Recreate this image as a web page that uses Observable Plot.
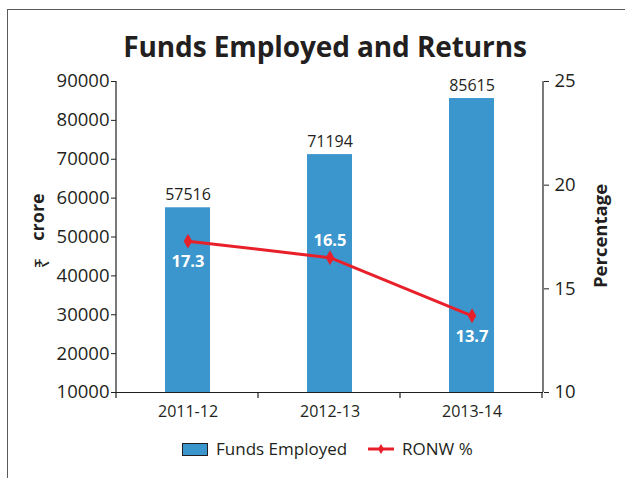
<!DOCTYPE html>
<html>
<head>
<meta charset="utf-8">
<script src="https://cdn.jsdelivr.net/npm/d3@7"></script>
<script src="https://cdn.jsdelivr.net/npm/@observablehq/plot@0.6"></script>
<style>
  html, body { margin: 0; padding: 0; background: #fff; }
  #wrap { position: relative; width: 625px; height: 478px; overflow: hidden; background: #fff; font-family: "Open Sans", sans-serif; color: #231f20; }
  #frameTop { position: absolute; left: 7px; top: 9px; width: 620px; height: 0; border-top: 1.5px solid #5a5a5a; }
  #frameLeft { position: absolute; left: 7px; top: 9px; width: 0; height: 480px; border-left: 1.5px solid #5a5a5a; }
  #title { position: absolute; left: 0; width: 650px; top: 29px; text-align: center; font-weight: 700; font-size: 28px; line-height: 34px; letter-spacing: -0.1px; }
  #chart { position: absolute; left: 0; top: 0; }
  #legend { position: absolute; top: 437px; left: 0; width: 625px; height: 24px; font-size: 17px; line-height: 24px; }
  .sw { position: absolute; }
  .lt { position: absolute; top: 0; white-space: nowrap; }
</style>
</head>
<body>
<div id="wrap">
  <div id="frameTop"></div>
  <div id="frameLeft"></div>
  <div id="chart"></div>
  <div id="title">Funds Employed and Returns</div>
  <div id="legend">
    <div class="sw" style="left:182px; top:6px; width:24px; height:11px; background:#3a96cd; border:1.3px solid #231f20;"></div>
    <div class="lt" style="left:216px;">Funds Employed</div>
    <svg class="sw" style="left:367px; top:4px;" width="28" height="16">
      <line x1="1" y1="8" x2="27" y2="8" stroke="#e8202a" stroke-width="3"></line>
      <path d="M14,3 L17,8 L14,13 L11,8 Z" fill="#e8202a"></path>
    </svg>
    <div class="lt" style="left:402px;">RONW %</div>
  </div>
</div>
<script>
const categories = ["2011-12", "2012-13", "2013-14"];
const fundsEmployed = [57516, 71194, 85615];
const ronw = [17.3, 16.5, 13.7];
const leftTicks = [10000, 20000, 30000, 40000, 50000, 60000, 70000, 80000, 90000];
const rightTicks = [10, 15, 20, 25];

const yMin = 10000, yMax = 90000, pMin = 10, pMax = 25;
const pToY = p => yMin + (p - pMin) * (yMax - yMin) / (pMax - pMin);
const yToP = v => pMin + (v - yMin) * (pMax - pMin) / (yMax - yMin);

const data = categories.map((c, i) => ({cat: c, funds: fundsEmployed[i], ronw: ronw[i], idx: i}));
const labelBelow = [true, false, true];

const red = "#e8202a";
const blue = "#3a96cd";
const ink = "#231f20";

const plot = Plot.plot({
  width: 625,
  height: 478,
  marginTop: 81,
  marginBottom: 86,
  marginLeft: 116,
  marginRight: 82,
  style: {fontFamily: "'Open Sans', sans-serif", color: ink, background: "transparent", overflow: "visible"},
  x: {domain: categories, paddingInner: 0.68, paddingOuter: 0.34, axis: null},
  y: {domain: [yMin, yMax], axis: null},
  marks: [
    Plot.barY(data, {x: "cat", y1: yMin, y2: "funds", fill: blue}),
    Plot.axisY({anchor: "left", ticks: leftTicks, tickFormat: d => String(d), tickSize: 5, tickPadding: 2, fontSize: 18.5, label: null, stroke: ink, fill: ink}),
    Plot.axisY({anchor: "right", ticks: rightTicks.map(pToY), tickFormat: v => String(Math.round(yToP(v))), tickSize: 5, tickPadding: 6, fontSize: 18.5, label: null, stroke: ink, fill: ink}),
    Plot.axisX({anchor: "bottom", tickSize: 0, tickPadding: 13, fontSize: 16, label: null, fill: ink}),
    Plot.ruleY([yMin], {stroke: ink, strokeWidth: 1.2}),
    Plot.line(data, {x: "cat", y: d => pToY(d.ronw), stroke: red, strokeWidth: 3}),
    Plot.dot(data, {x: "cat", y: d => pToY(d.ronw), symbol: "diamond", r: 4.5, fill: red, stroke: null}),
    Plot.text(data, {x: "cat", y: "funds", text: d => String(d.funds), dy: -13, fontSize: 16, fill: ink}),
    Plot.text(data.filter(d => labelBelow[d.idx]), {x: "cat", y: d => pToY(d.ronw), text: d => d.ronw.toFixed(1), dy: 21, fontSize: 16.5, fontWeight: "bold", fill: "white"}),
    Plot.text(data.filter(d => !labelBelow[d.idx]), {x: "cat", y: d => pToY(d.ronw), text: d => d.ronw.toFixed(1), dy: -17, fontSize: 16.5, fontWeight: "bold", fill: "white"}),
    Plot.text(["crore"], {frameAnchor: "left", textAnchor: "middle", dx: -78, dy: -20, rotate: -90, text: d => d, fontSize: 18, fontWeight: "bold", fill: ink}),
    Plot.text(["₹"], {frameAnchor: "left", textAnchor: "middle", dx: -74, dy: 26, rotate: -90, text: d => d, fontSize: 19, fontFamily: "'Noto Sans', 'DejaVu Sans', sans-serif", fill: ink}),
    Plot.text(["Percentage"], {frameAnchor: "right", textAnchor: "middle", dx: 58, dy: -1, rotate: -90, text: d => d, fontSize: 18.5, fontWeight: "bold", fill: ink})
  ]
});

document.getElementById("chart").appendChild(plot);

// axis lines and category-boundary ticks, placed with the plot's own scales
const sx = plot.scale("x");
const sy = plot.scale("y");
const svg = d3.select(plot);
const [x0, x1] = sx.range;
const [yb, yt] = sy.range;
const g = svg.append("g").attr("stroke", ink).attr("stroke-width", 1.2);
g.append("line").attr("x1", x0).attr("x2", x0).attr("y1", yt).attr("y2", yb);
g.append("line").attr("x1", x1).attr("x2", x1).attr("y1", yt).attr("y2", yb);
for (let i = 0; i <= categories.length; i++) {
  const bx = x0 + i * sx.step;
  g.append("line").attr("x1", bx).attr("x2", bx).attr("y1", yb).attr("y2", yb + 6);
}
</script>
</body>
</html>
